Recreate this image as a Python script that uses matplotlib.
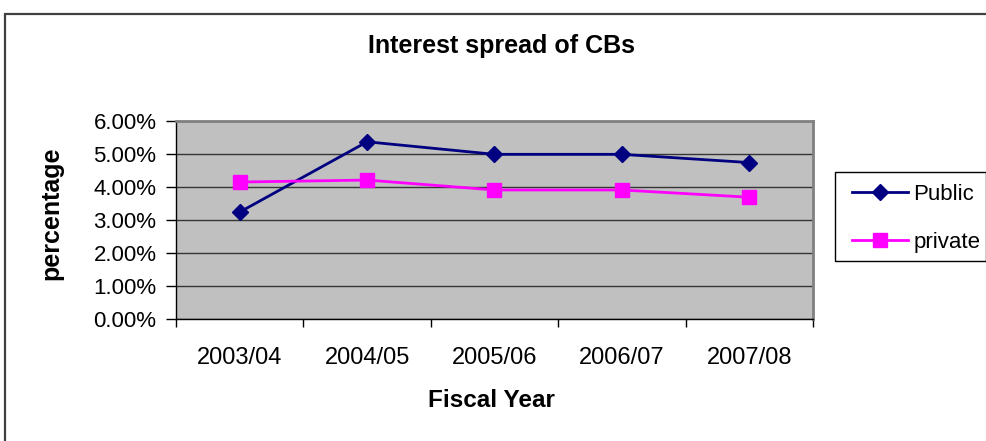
import matplotlib
matplotlib.use("Agg")
import matplotlib.pyplot as plt
from matplotlib.patches import Rectangle
from matplotlib.ticker import FixedLocator, PercentFormatter

plt.rcParams['font.family'] = ['Liberation Sans', 'DejaVu Sans']

years = ["2003/04", "2004/05", "2005/06", "2006/07", "2007/08"]
public = [3.24, 5.37, 4.99, 4.99, 4.74]
private = [4.15, 4.21, 3.91, 3.91, 3.69]

W, H = 987, 441
fig = plt.figure(figsize=(W / 100, H / 100), dpi=100)
fig.patch.set_facecolor("white")


def fx(px):
    return px / W


def fy(py):
    return 1 - py / H


# outer chart frame (runs past the right and bottom edges)
fig.add_artist(Rectangle((fx(5), -0.05), 1.1, fy(14) + 0.05,
                         transform=fig.transFigure, fill=False,
                         edgecolor="#404040", linewidth=1.6))

L, R, T, B = 176, 813, 121, 319
ax = fig.add_axes([fx(L), fy(B), (R - L) / W, (B - T) / H])
ax.set_facecolor("#C0C0C0")

x = list(range(len(years)))
ax.plot(x, public, color="#000080", linewidth=2, marker="D", markersize=8,
        label="Public", zorder=3)
ax.plot(x, private, color="#FF00FF", linewidth=2, marker="s", markersize=9.5,
        label="private", zorder=3)

ax.set_xlim(-0.5, len(years) - 0.5)
ax.set_ylim(0, 6)
ax.yaxis.set_major_locator(FixedLocator([0, 1, 2, 3, 4, 5, 6]))
ax.yaxis.set_major_formatter(PercentFormatter(100, decimals=2))
ax.grid(axis="y", color="#353535", linewidth=1)
ax.set_axisbelow(True)

ax.xaxis.set_major_locator(FixedLocator([i - 0.5 for i in range(len(years) + 1)]))
ax.xaxis.set_major_formatter(plt.NullFormatter())
ax.xaxis.set_minor_locator(FixedLocator(x))
ax.set_xticklabels(years, minor=True)
ax.tick_params(axis="x", which="major", direction="out", length=6, width=1)
ax.tick_params(axis="x", which="minor", length=0, pad=20, labelsize=17)
ax.tick_params(axis="y", direction="out", length=7, width=1, pad=7, labelsize=16)

for side in ("top", "right"):
    ax.spines[side].set_color("#808080")
    ax.spines[side].set_linewidth(2)
for side in ("left", "bottom"):
    ax.spines[side].set_color("black")
    ax.spines[side].set_linewidth(1)

fig.text(fx(502), fy(53), "Interest spread of CBs", ha="center", va="baseline",
         fontsize=18, fontweight="bold")
fig.text(fx(51), fy(213), "percentage", ha="center", va="center",
         rotation=90, fontsize=18, fontweight="bold")
fig.text(fx(491.5), fy(407), "Fiscal Year", ha="center", va="baseline",
         fontsize=17.5, fontweight="bold")

# legend box drawn separately, entries placed inside it
fig.add_artist(Rectangle((fx(835), fy(261)), (986 - 835) / W, (261 - 172) / H,
                         transform=fig.transFigure, facecolor="white",
                         edgecolor="black", linewidth=1, zorder=4))
leg = fig.legend(loc="upper left", bbox_to_anchor=(fx(852), fy(184)),
                 frameon=False, fontsize=16, handlelength=2.5,
                 handletextpad=0.25, labelspacing=1.2, borderpad=0,
                 borderaxespad=0)
leg.set_zorder(5)

fig.savefig("out.png", dpi=100)
